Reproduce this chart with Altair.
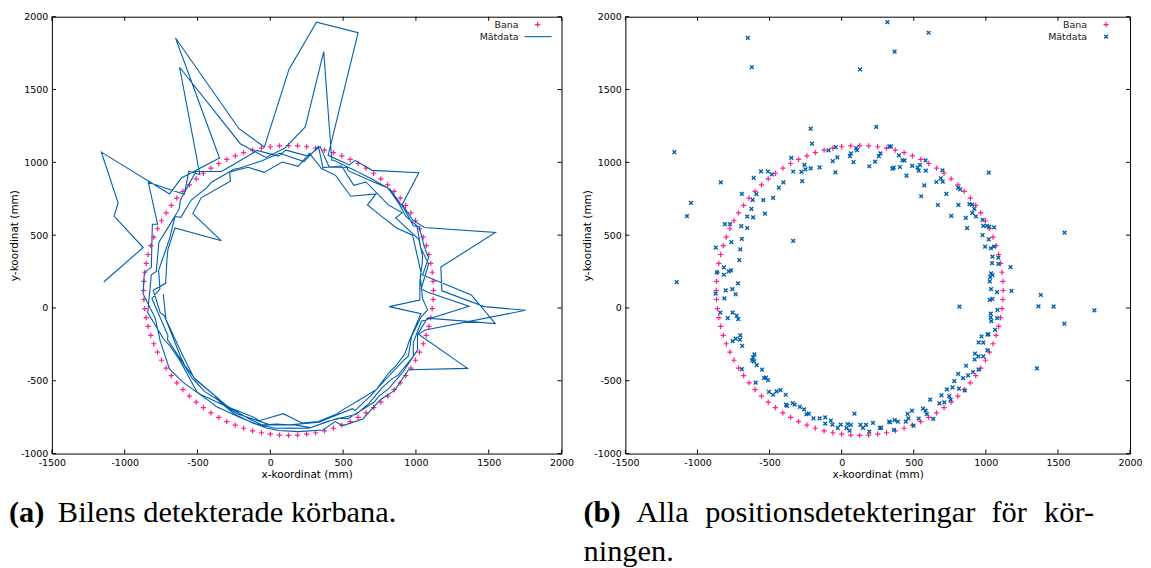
import altair as alt
import pandas as pd
import numpy as np

H = 438
SANS = "DejaVu Sans"
SERIF = "Liberation Serif"
PINK = "#ff1f8f"
BLUE = "#0060ad"
PLUS = "M-1,0L1,0M0,-1L0,1"
CROSS = "M-1,-1L1,1M-1,1L1,-1"

x_ticks = [-1500, -1000, -500, 0, 500, 1000, 1500, 2000]
y_ticks = [-1000, -500, 0, 500, 1000, 1500, 2000]

# reference track ("Bana")
bana_x = [1120, 1118, 1112, 1102, 1089, 1071, 1050, 1025, 997, 965, 930, 892, 850, 806, 759, 710, 658, 604, 549, 491, 433, 372, 311, 250, 187,
          125, 63, 0, -61, -122, -183, -241, -299, -354, -408, -460, -509, -556, -600, -642, -680, -715, -747, -775, -800, -821, -839, -852, -862, -868,
          -870, -868, -862, -852, -839, -821, -800, -775, -747, -715, -680, -642, -600, -556, -509, -460, -408, -354, -299, -241, -183, -122, -61, 0, 63,
          125, 187, 250, 311, 372, 433, 491, 549, 604, 658, 710, 759, 806, 850, 892, 930, 965, 997, 1025, 1050, 1071, 1089, 1102, 1112, 1118]
bana_y = [120, 182, 245, 306, 367, 428, 486, 544, 599, 653, 705, 754, 801, 845, 887, 925, 960, 992, 1020, 1045, 1066, 1084, 1097, 1107, 1113,
          1115, 1113, 1107, 1097, 1084, 1066, 1045, 1020, 992, 960, 925, 887, 845, 801, 754, 705, 653, 599, 544, 486, 428, 367, 306, 245, 182,
          120, 58, -5, -66, -127, -188, -246, -304, -359, -413, -465, -514, -561, -605, -647, -685, -720, -752, -780, -805, -826, -844, -857, -867, -873,
          -875, -873, -867, -857, -844, -826, -805, -780, -752, -720, -685, -647, -605, -561, -514, -465, -413, -359, -304, -246, -188, -127, -66, -5, 58]

# measured positions ("Mätdata")
mat_x = [-1160, -651, -623, 128, 317, 603, 367, 240, -215, -1073, -1045, -838, -336, -1144, 817, 1020, 1546, 1365, 1381, 1470, 1545, 1753, 1354, 89, 1178, 1171,
         -810, -774, -696, -655, -692, -765, -873, -703,
         -692, -655, -614, -626, -617, -610, -591, -559, -543, -532, -511, -484, -475, -436, -404, -349, -336, -279, -274, -258, -251, -206, -215, -153, -91, -62, -41, -30, -43,
         57, 64, 82, 100, 107, 192, 232, 258, 269, 331, 342, 352, 361, 397, 404, 422, 436, 450, 489, 527, 534, 543, 552, 573, 582, 584,
         657, 667, 687, 699, 701, 726, 760, 808, 822, 810, 861, 870, 886, 906, 920, 931, 906, 977, 982, 1007, 1023, 1057, 977, 1020, 995, 1034, 1057,
         1046, 1087, 1043, 1087, 1036, 1046, 1030, 1027, 1036, 1078,
         1027, 1046, 1080, 1034, 1034, 1038, 1078, 1064, 1011, 1018,
         970, 950, 982, 1011, 925, 948, 982, 922, 863, 950,
         911, 877, 842, 808, 854, 813, 781, 769, 756, 746,
         730, 712, 692, 678, 635, 614, 591, 582, 564, 534,
         498, 488, 463, 457, 445, 390, 367, 363, 336, 329,
         274, 265, 217, 192, 169, 148, 130, 64, 55, 41,
         34, -7, -27, -64, -75, -114, -114, -153, -196, -228,
         -244, -260, -290, -326, -340, -379, -386, -388, -425, -452,
         -475, -504, -511, -525, -538, -552, -596, -589, -692, -607,
         -621, -614, -605, -690, -706, -703, -735, -756, -717, -728,
         -756, -790, -842, -813, -874, -735, -758, -804, -719, -783,
         -767, -817, -817, -865, -710]
mat_y = [1070, 1854, 1653, 1638, 1963, 1890, 1760, 1243, 1231, 630, 721, 863, 461, 178, 9, 929, 518, 11, 89, 9, -107, -16, -415, -726, 118, 281,
         575, 575, 562, 549, 475, 452, 415, 402,
         783, 628, 622, 680, 742, 893, 781, 938, 741, 648, 937, 917, 756, 826, 863, 1030, 937, 934, 871, 982, 952, 1128, 959, 966, 1082, 1009, 1105, 1034, 931,
         1043, 1062, 1002, 1098, 1084, 973, 1005, 1043, 1062, 1110, 1108, 957, 964, 1048, 968, 1014, 1014, 909, 975, 964, 943, 982, 767, 842, 1014, 943,
         865, 707, 890, 945, 868, 783, 632, 824, 815, 708, 619, 548, 713, 710, 680, 628, 653, 605, 564, 564, 557, 553, 500, 471, 421, 410, 421,
         352, 346, 308, 302, 238, 226, 212, 183, 130, 109,
         55, 62, -13, -39, -64, -91, -70, -151, -184, -180,
         -196, -237, -238, -290, -314, -332, -332, -354, -397, -424,
         -440, -463, -482, -452, -566, -554, -502, -545, -630, -605,
         -559, -648, -600, -655, -762, -630, -730, -705, -692, -760,
         -808, -705, -758, -728, -780, -780, -771, -838, -785, -780,
         -822, -826, -790, -849, -803, -824, -803, -803, -842, -797,
         -826, -801, -824, -801, -774, -794, -751, -758, -758, -726,
         -730, -696, -680, -664, -653, -673, -664, -596, -564, -573,
         -596, -577, -495, -479, -481, -424, -513, -392, -420, -367,
         -360, -340, -319, -260, -217, -189, -210, -228, -77, -52,
         -32, -70, -32, 65, 98, 94, 130, 121, 169, 251,
         258, 279, 228, 244, 329]

bana = pd.DataFrame({"x": bana_x, "y": bana_y})
mat = pd.DataFrame({"x": mat_x, "y": mat_y})
# drawing order for the trajectory: several laps around the track;
# within each small angular group, the laps are ordered by distance from the centre
LAPS = 5
ang = np.arctan2(mat["y"] - 120, mat["x"] - 125)
rad = np.hypot(mat["y"] - 120, mat["x"] - 125)
rank = ang.rank(method="first").astype(int) - 1
grp = rank // LAPS
lap = pd.Series(rad.values).groupby(grp.values).rank(method="first").astype(int).values - 1
mat["t"] = lap * len(mat) + rank.values

xt = pd.DataFrame({"x": x_ticks})
yt = pd.DataFrame({"y": y_ticks})
one = pd.DataFrame({"a": [0]})

xs = alt.Scale(domain=[-1500, 2000], nice=False, zero=False)
ys = alt.Scale(domain=[-1000, 2000], nice=False, zero=False)
common = dict(grid=False, ticks=False, domain=False, labelOverlap=False,
              labelFont=SANS, labelFontSize=9.5, labelColor="black",
              titleFont=SANS, titleFontSize=10.5, titleFontWeight="normal", titleColor="black",
              labelExpr="'' + datum.value", labelPadding=4)
xa = alt.Axis(values=x_ticks, title="x-koordinat (mm)", labelFlush=False, titlePadding=3, **common)
ya = alt.Axis(values=y_ticks, title="y-koordinat (mm)", titlePadding=1, **common)
X = alt.X("x:Q", scale=xs, axis=xa)
Y = alt.Y("y:Q", scale=ys, axis=ya)
FS = 30.5


def panel(kind, W, words):
    layers = []
    layers.append(alt.Chart(bana).mark_point(shape=PLUS, size=28, filled=False, color=PINK,
                                             strokeWidth=1.2, opacity=1).encode(x=X, y=Y))
    if kind == "line":
        layers.append(alt.Chart(mat).mark_line(color=BLUE, strokeWidth=1.1).encode(x=X, y=Y, order="t:Q"))
    else:
        layers.append(alt.Chart(mat).mark_point(shape=CROSS, size=14, filled=False, color=BLUE,
                                                strokeWidth=1.4, opacity=1).encode(x=X, y=Y))
    tk = dict(color="black", strokeWidth=1)
    layers.append(alt.Chart(xt).mark_rule(**tk).encode(x=X, y=alt.value(H), y2=alt.value(H - 4)))
    layers.append(alt.Chart(xt).mark_rule(**tk).encode(x=X, y=alt.value(0), y2=alt.value(4)))
    layers.append(alt.Chart(yt).mark_rule(**tk).encode(y=Y, x=alt.value(0), x2=alt.value(4)))
    layers.append(alt.Chart(yt).mark_rule(**tk).encode(y=Y, x=alt.value(W), x2=alt.value(W - 4)))
    # legend
    lt = dict(align="right", baseline="middle", font=SANS, fontSize=9.5, color="#222222")
    layers.append(alt.Chart(one).mark_text(text="Bana", **lt).encode(x=alt.value(W - 43), y=alt.value(8)))
    layers.append(alt.Chart(one).mark_text(text="Mätdata", **lt).encode(x=alt.value(W - 43), y=alt.value(20)))
    layers.append(alt.Chart(one).mark_point(shape=PLUS, size=28, filled=False, color=PINK, strokeWidth=1.2,
                                            opacity=1).encode(x=alt.value(W - 24), y=alt.value(8)))
    if kind == "line":
        layers.append(alt.Chart(one).mark_rule(color=BLUE, strokeWidth=1.1).encode(
            x=alt.value(W - 37), x2=alt.value(W - 10), y=alt.value(20)))
    else:
        layers.append(alt.Chart(one).mark_point(shape=CROSS, size=14, filled=False, color=BLUE, strokeWidth=1.4,
                                                opacity=1).encode(x=alt.value(W - 24), y=alt.value(20)))
    # caption
    for text, xpos, ypos, bold, al in words:
        layers.append(alt.Chart(one).mark_text(text=text, align=al, baseline="alphabetic", font=SERIF,
                                               fontSize=FS, fontWeight="bold" if bold else "normal",
                                               color="black").encode(x=alt.value(xpos), y=alt.value(ypos)))
    return alt.layer(*layers).properties(width=W, height=H)


left = panel("line", 511, [("(a)", -43, 507, True, "left"),
                           ("Bilens detekterade körbana.", 6, 507, False, "left")])
right = panel("points", 506, [("(b)", -42, 507, True, "left"), ("Alla", 11, 507, False, "left"),
                              ("positionsdetekteringar", 80, 507, False, "left"), ("för", 367, 507, False, "left"),
                              ("kör-", 470, 507, False, "right"), ("ningen.", -42, 546, False, "left")])

chart = alt.hconcat(left, right, spacing=7).properties(
    padding={"left": 0, "top": 2, "right": 0, "bottom": 0}
).configure_view(stroke="black", strokeWidth=1)

chart.save("out.html", embed_options={"renderer": "svg", "actions": False})
